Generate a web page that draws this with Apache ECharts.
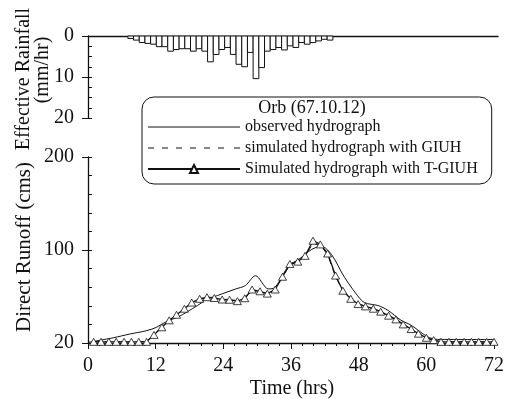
<!DOCTYPE html>
<html><head><meta charset="utf-8">
<script src="https://cdn.jsdelivr.net/npm/echarts@6/dist/echarts.min.js"></script>
<style>html,body{margin:0;padding:0;background:#fff}#c{width:507px;height:399px}</style>
</head><body><div id="c"></div>
<script>
// Effective rainfall (mm/hr), hourly blocks starting at rainHours[i]
const rainHours  = [7,8,9,10,11,12,13,14,15,16,17,18,19,20,21,22,23,24,25,26,27,28,29,30,31,32,33,34,35,36,37,38,39,40,41,42];
const rainValues = [0.6,1.0,1.6,1.8,2.0,2.6,2.6,3.7,3.3,3.1,3.1,3.7,3.1,3.7,6.3,4.5,3.3,2.8,4.5,6.9,7.5,4.0,10.4,7.7,3.7,3.3,2.8,3.4,2.4,2.8,1.6,2.0,1.6,1.2,0.8,1.0];

// Observed hydrograph (cms)
const obsHours  = [0,4.5,7.4,10.3,12.1,13.8,16.2,18.5,20.3,20.9,22.1,23.8,26.2,27.9,29.7,32,33.2,35.6,37.4,39.7,41.4,43.2,45.5,48.5,49.6,51.4,53.2,55.5,57.3,60.2,62,72];
const obsValues = [20.5,24.5,27.7,30.5,33.4,38.1,43,49.5,55.1,58,59.4,62.3,66.5,69.4,77.9,66.5,67.9,86.4,92,100.7,104,96,76.4,56.6,53.8,52.3,48.1,39.6,35.3,25.4,23.1,23];

// Simulated hydrographs (cms)
const simHours = [1.0,2.3,3.7,5.0,6.4,7.7,9.0,10.4,11.7,13.1,14.4,15.7,17.1,18.4,19.8,21.1,22.4,23.8,25.1,26.5,27.8,29.1,30.5,31.8,33.2,34.5,35.8,37.2,38.5,39.9,41.2,42.5,43.9,45.2,46.6,47.9,49.2,50.6,51.9,53.3,54.6,55.9,57.3,58.6,60.0,61.3,62.6,64.0,65.3,66.7,68.0,69.3,70.7,72.0];
const giuhValues  = [21,21,21,21,21,21,21,21.5,27.5,33.5,39.5,44.5,49.5,54.5,57.5,59,58.5,57.5,57,56.5,58.5,65,64,62.5,66.5,77,87,90,95,107,105,96,77,65,58.5,54,51.5,49.5,47,43.5,40,36,32,28,24.5,22.5,21,21,21,21,21,21,21,21];
const tgiuhValues = [21,21,21,21,21,21,21,21,27,33.5,39.5,44.3,49.5,54.8,58,59.4,58.7,57.4,57.2,56,58.5,66,64.5,62.5,66,77,88,90,95,110,106,97,78,65,58,53.5,51.5,49.5,47,43.5,40.3,36,32,28,24.5,22.5,21,21,21,21,21,21,21,21];

const runoffTickLabels = ['20','100','200'];
const runoffTickValues = [20,100,200];

// map runoff value onto the chart's piecewise axis (20-100 and 100-200 drawn with equal length)
function toAxis(v){ return v <= 100 ? (v-20)/80 : 1 + (v-100)/100; }
function pairs(xs, vs){ return xs.map((x,i)=>[x, toAxis(vs[i])]); }

const FONT = 'Liberation Serif';
const black = '#111';
const chart = echarts.init(document.getElementById('c'), null, {renderer:'canvas'});
const gridL = 88, gridR = 9;

const solidIcon = 'path://M0,0h92v1h-92z';
const dashIcon = 'path://M0,0h6v1h-6z M14,0h6v1h-6z M28,0h6v1h-6z M42,0h6v1h-6z M56,0h6v1h-6z M70,0h6v1h-6z M86,0h6v1h-6z';

chart.setOption({
  animation:false,
  backgroundColor:'#fff',
  grid:[
    {left:gridL, right:gridR, top:36, height:82},
    {left:gridL, right:gridR, top:157, height:186}
  ],
  xAxis:[
    {gridIndex:0, type:'value', min:0, max:72, position:'top',
      axisLine:{show:true, lineStyle:{color:black, width:1.3}}, axisTick:{show:false}, axisLabel:{show:false}, splitLine:{show:false}},
    {gridIndex:1, type:'value', min:0, max:72, interval:12, position:'bottom',
      axisLine:{show:true, onZero:false, lineStyle:{color:black, width:1.3}},
      axisTick:{show:true, length:6, lineStyle:{color:black}},
      axisLabel:{fontFamily:FONT, fontSize:20, color:black, margin:13},
      splitLine:{show:false}},
    {gridIndex:1, type:'value', min:0, max:72, interval:2, position:'bottom',
      axisLine:{show:false, onZero:false}, axisTick:{show:true, length:3, lineStyle:{color:black}}, axisLabel:{show:false}, splitLine:{show:false}}
  ],
  yAxis:[
    {gridIndex:0, type:'value', min:0, max:20, interval:10, inverse:true, position:'left',
      axisLine:{show:true, lineStyle:{color:black, width:1.3}},
      axisTick:{show:true, length:6, lineStyle:{color:black}},
      axisLabel:{fontFamily:FONT, fontSize:20, color:black, margin:14},
      splitLine:{show:false}},
    {gridIndex:0, type:'value', min:0, max:20, interval:2.5, inverse:true, position:'left',
      axisLine:{show:false}, axisTick:{show:true, inside:true, length:4, lineStyle:{color:black}}, axisLabel:{show:false}, splitLine:{show:false}},
    {gridIndex:1, type:'value', min:0, max:2, interval:1, position:'left',
      axisLine:{show:true, onZero:false, lineStyle:{color:black, width:1.3}},
      axisTick:{show:true, length:6, lineStyle:{color:black}},
      axisLabel:{fontFamily:FONT, fontSize:20, color:black, margin:14,
        formatter:v=>{const i=runoffTickValues.findIndex(t=>Math.abs(toAxis(t)-v)<1e-6); return i>=0?runoffTickLabels[i]:'';}},
      splitLine:{show:false}},
    {gridIndex:1, type:'value', min:0, max:2, interval:0.2, position:'left',
      axisLine:{show:false, onZero:false}, axisTick:{show:true, inside:true, length:4, lineStyle:{color:black}}, axisLabel:{show:false}, splitLine:{show:false}}
  ],
  legend:{
    orient:'vertical', left:142, top:97,
    padding:[22,14,7,5], itemGap:5, itemWidth:92, itemHeight:10,
    borderColor:black, borderWidth:1, borderRadius:12, backgroundColor:'#fff',
    textStyle:{fontFamily:FONT, fontSize:16, color:black},
    data:[
      {name:'observed hydrograph', icon:solidIcon},
      {name:'simulated hydrograph with GIUH', icon:dashIcon},
      {name:'Simulated hydrograph with T-GIUH'}
    ]
  },
  graphic:[
    {type:'text', x:312, y:108, z:100, style:{text:'Orb (67.10.12)', font:'18px "Liberation Serif"', fill:black, align:'center', verticalAlign:'middle'}},
    {type:'text', x:24, y:79, rotation:Math.PI/2, style:{text:'Effective Rainfall', font:'20px "Liberation Serif"', fill:black, align:'center', verticalAlign:'middle'}},
    {type:'text', x:43, y:70, rotation:Math.PI/2, style:{text:'(mm/hr)', font:'20px "Liberation Serif"', fill:black, align:'center', verticalAlign:'middle'}},
    {type:'text', x:24, y:247, rotation:Math.PI/2, style:{text:'Direct Runoff (cms)', font:'21px "Liberation Serif"', fill:black, align:'center', verticalAlign:'middle'}},
    {type:'text', x:292, y:389, style:{text:'Time (hrs)', font:'20px "Liberation Serif"', fill:black, align:'center', verticalAlign:'middle'}}
  ],
  series:[
    {type:'custom', xAxisIndex:0, yAxisIndex:0,
      data: rainHours.map((h,i)=>[h, rainValues[i]]),
      encode:{x:0, y:1},
      renderItem:(params, api)=>{
        const h = api.value(0), v = api.value(1);
        const p0 = api.coord([h, 0]), p1 = api.coord([h+1, v]);
        return {type:'rect', shape:{x:p0[0], y:p0[1], width:p1[0]-p0[0], height:p1[1]-p0[1]},
          style:{fill:'#fff', stroke:black, lineWidth:1}};
      }},
    {name:'observed hydrograph', type:'line', xAxisIndex:1, yAxisIndex:2, data:pairs(obsHours, obsValues),
      symbol:'none', smooth:0.3, lineStyle:{color:black, width:1}, itemStyle:{color:black}},
    {name:'simulated hydrograph with GIUH', type:'line', xAxisIndex:1, yAxisIndex:2, data:pairs(simHours, giuhValues),
      symbol:'none', lineStyle:{color:black, width:1, type:[6,5]}, itemStyle:{color:black}},
    {name:'Simulated hydrograph with T-GIUH', type:'line', xAxisIndex:1, yAxisIndex:2, data:pairs(simHours, tgiuhValues),
      symbol:'triangle', symbolSize:[8,7], lineStyle:{color:black, width:1.3},
      itemStyle:{color:'#fff', borderColor:black, borderWidth:0.8}}
  ]
});
</script></body></html>
